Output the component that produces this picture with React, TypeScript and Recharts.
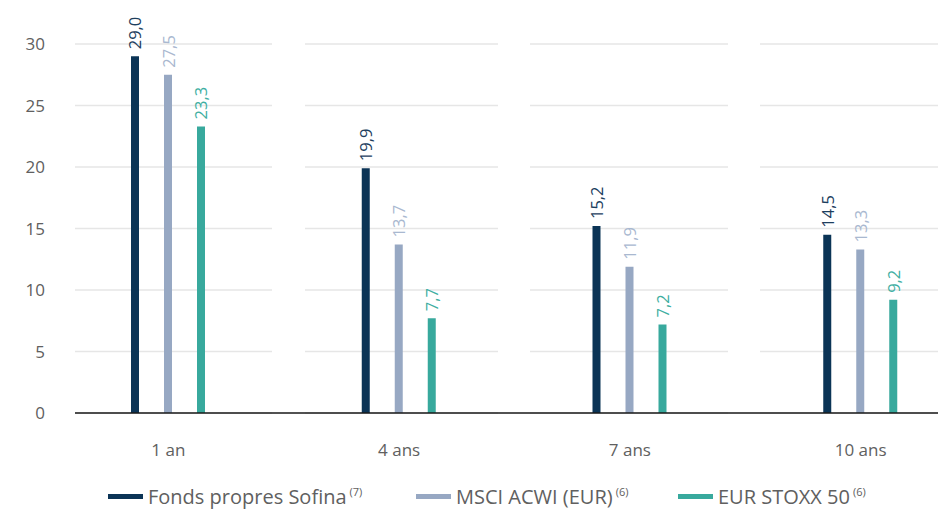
import { Bar, BarChart, CartesianGrid, LabelList, XAxis, YAxis } from 'recharts';

const periods = ['1 an', '4 ans', '7 ans', '10 ans'];
const sofina = [29.0, 19.9, 15.2, 14.5];
const msci = [27.5, 13.7, 11.9, 13.3];
const stoxx = [23.3, 7.7, 7.2, 9.2];
const yTicks = [0, 5, 10, 15, 20, 25, 30];

const seriesNames = ['Fonds propres Sofina', 'MSCI ACWI (EUR)', 'EUR STOXX 50'];
const seriesNotes = ['(7)', '(6)', '(6)'];
const barColors = ['#0b3456', '#97a8c3', '#38a99d'];
const labelColors = ['#1d3e5e', '#a9b8d0', '#3fafa2'];
const legendLeft = [108, 416, 678];

const data = periods.map((p, i) => ({
	name: p,
	sofina: sofina[i],
	msci: msci[i],
	stoxx: stoxx[i],
}));

const FONT = '"Open Sans", sans-serif';
const GREY = '#606060';

const fmt = (v: number) => v.toFixed(1).replace('.', ',');

const makeLabel = (color: string) => (props: any) => {
	const { x, y, width, value } = props;
	const cx = Number(x) + Number(width) / 2;
	const ty = Number(y) - 7;
	return (
		<text
			x={cx}
			y={ty}
			transform={`rotate(-90 ${cx} ${ty})`}
			textAnchor="start"
			dominantBaseline="central"
			fill={color}
			fontSize={16.5}
			fontFamily={FONT}
		>
			{fmt(Number(value))}
		</text>
	);
};

const keys = ['sofina', 'msci', 'stoxx'];

export default function App() {
	return (
		<div
			style={{
				position: 'absolute',
				left: 0,
				top: 0,
				width: 938,
				height: 511,
				overflow: 'hidden',
				background: '#fff',
				fontFamily: FONT,
			}}
		>
			<BarChart
				width={990}
				height={511}
				data={data}
				barSize={8}
				barGap={25}
				margin={{ top: 44, right: 14, left: 0, bottom: 0 }}
			>
				<CartesianGrid
					vertical={false}
					stroke="#e6e6e6"
					strokeWidth={1.5}
					strokeDasharray="0 22 197 33 193 32 198 32 400"
				/>
				<XAxis
					dataKey="name"
					height={98}
					tickLine={false}
					tickMargin={25}
					axisLine={{
						stroke: '#1a1a1a',
						strokeWidth: 1.5,
						strokeDasharray: '0 22 2000',
					}}
					tick={{ fill: GREY, fontSize: 17, fontFamily: FONT }}
				/>
				<YAxis
					width={53}
					domain={[0, 30]}
					ticks={yTicks}
					axisLine={false}
					tickLine={false}
					tick={{ fill: GREY, fontSize: 17, fontFamily: FONT }}
				/>
				{keys.map((k, i) => (
					<Bar
						key={k}
						dataKey={k}
						fill={barColors[i]}
						isAnimationActive={false}
					>
						<LabelList dataKey={k} content={makeLabel(labelColors[i])} />
					</Bar>
				))}
			</BarChart>
			{seriesNames.map((n, i) => (
				<div
					key={n}
					style={{
						position: 'absolute',
						left: legendLeft[i],
						top: 483,
						display: 'flex',
						alignItems: 'center',
						color: GREY,
						fontSize: 20,
						whiteSpace: 'nowrap',
					}}
				>
					<span
						style={{
							display: 'inline-block',
							width: 35,
							height: 4.5,
							background: barColors[i],
							marginRight: 5,
						}}
					/>
					<span>{n}</span>
					<sup
						style={{
							fontSize: 11,
							marginLeft: 3,
							lineHeight: 1,
							alignSelf: 'flex-start',
							marginTop: 3,
						}}
					>
						{seriesNotes[i]}
					</sup>
				</div>
			))}
		</div>
	);
}
